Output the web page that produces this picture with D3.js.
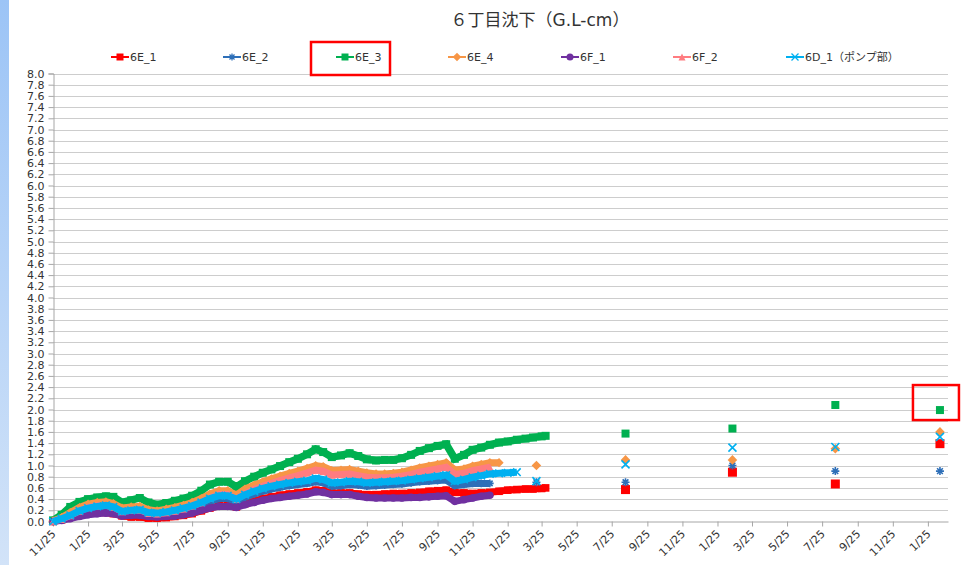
<!DOCTYPE html>
<html lang="ja">
<head>
<meta charset="UTF-8">
<title>6丁目沈下</title>
<script src="https://d3js.org/d3.v7.min.js"></script>
<style>
  body { margin: 0; background: #fff; }
  svg { display: block; }
  text { font-family: "DejaVu Sans", "Noto Sans CJK JP", sans-serif; fill: #333; }
</style>
</head>
<body>
<svg width="964" height="565"></svg>
<script>
// measurement dates of the dense part (every ~half month)
var denseDates = [
  "2012-11-25","2012-12-10","2012-12-25","2013-01-10","2013-01-25","2013-02-10","2013-02-25","2013-03-10",
  "2013-03-25","2013-04-10","2013-04-25","2013-05-10","2013-05-25","2013-06-10","2013-06-25","2013-07-10",
  "2013-07-25","2013-08-10","2013-08-25","2013-09-10","2013-09-25","2013-10-10","2013-10-25","2013-11-10",
  "2013-11-25","2013-12-10","2013-12-25","2014-01-10","2014-01-25","2014-02-10","2014-02-25","2014-03-10",
  "2014-03-25","2014-04-10","2014-04-25","2014-05-10","2014-05-25","2014-06-10","2014-06-25","2014-07-10",
  "2014-07-25","2014-08-10","2014-08-25","2014-09-10","2014-09-25","2014-10-10","2014-10-25","2014-11-10",
  "2014-11-25","2014-12-10","2014-12-25","2015-01-10","2015-01-25","2015-02-10","2015-02-25","2015-03-10",
  "2015-03-25","2015-04-01"
];
// later, isolated measurements
var sparseDates = ["2015-03-16", "2015-08-18", "2016-02-20", "2016-08-17", "2017-02-15"];

var seriesNames = ["6E_1", "6E_2", "6E_3", "6E_4", "6F_1", "6F_2", "6D_1（ポンプ部）"];

var dense_6E_1 = [0.00,0.03,0.08,0.13,0.15,0.16,0.16,0.14,0.10,0.08,0.08,0.06,0.06,0.07,0.09,0.11,
  0.14,0.19,0.24,0.28,0.28,0.26,0.32,0.37,0.41,0.44,0.47,0.49,0.51,0.53,0.56,0.55,
  0.51,0.51,0.51,0.49,0.48,0.48,0.49,0.50,0.50,0.51,0.52,0.54,0.55,0.56,0.52,0.51,
  0.50,0.51,0.52,0.54,0.56,0.57,0.58,0.58,0.59,0.60];
var dense_6E_2 = [0.00,0.04,0.09,0.16,0.20,0.23,0.25,0.22,0.14,0.16,0.17,0.12,0.11,0.13,0.16,0.20,
  0.24,0.30,0.36,0.41,0.41,0.35,0.43,0.49,0.54,0.58,0.61,0.64,0.66,0.68,0.71,0.69,
  0.63,0.64,0.66,0.65,0.63,0.64,0.65,0.66,0.67,0.69,0.71,0.72,0.73,0.74,0.64,0.66,
  0.68,0.68,0.68,null,null,null,null,null,null,null];
var dense_6E_3 = [0.02,0.12,0.26,0.35,0.40,0.43,0.45,0.44,0.34,0.38,0.42,0.34,0.30,0.33,0.37,0.41,
  0.46,0.55,0.66,0.71,0.71,0.62,0.72,0.80,0.87,0.93,0.99,1.06,1.12,1.20,1.29,1.24,
  1.15,1.18,1.22,1.17,1.11,1.09,1.10,1.10,1.13,1.19,1.26,1.31,1.35,1.38,1.12,1.19,
  1.28,1.32,1.37,1.41,1.43,1.46,1.48,1.50,1.52,1.53];
var dense_6E_4 = [0.01,0.07,0.16,0.25,0.31,0.34,0.35,0.32,0.24,0.26,0.27,0.21,0.19,0.22,0.25,0.29,
  0.34,0.41,0.49,0.55,0.55,0.47,0.58,0.65,0.71,0.76,0.81,0.86,0.90,0.95,1.00,0.98,
  0.91,0.92,0.93,0.90,0.87,0.85,0.85,0.86,0.88,0.92,0.96,0.99,1.02,1.05,0.92,0.94,
  0.99,1.02,1.05,1.05,null,null,null,null,null,null];
var dense_6F_1 = [0.00,0.02,0.05,0.09,0.12,0.14,0.15,0.14,0.10,0.11,0.11,0.09,0.08,0.09,0.10,0.12,
  0.15,0.20,0.24,0.27,0.27,0.25,0.30,0.34,0.38,0.41,0.43,0.45,0.47,0.49,0.53,0.52,
  0.48,0.48,0.48,0.45,0.43,0.42,0.42,0.42,0.42,0.43,0.43,0.44,0.45,0.46,0.36,0.39,
  0.42,0.45,0.47,null,null,null,null,null,null,null];
var dense_6F_2 = [0.01,0.04,0.11,0.19,0.25,0.28,0.29,0.26,0.18,0.20,0.21,0.15,0.14,0.16,0.19,0.23,
  0.28,0.34,0.42,0.48,0.48,0.40,0.50,0.57,0.63,0.68,0.73,0.78,0.82,0.87,0.92,0.90,
  0.83,0.84,0.85,0.82,0.79,0.78,0.78,0.79,0.81,0.84,0.88,0.91,0.94,0.97,0.84,0.86,
  0.91,0.94,0.97,null,null,null,null,null,null,null];
var dense_6D_1 = [0.00,0.05,0.11,0.19,0.24,0.27,0.29,0.26,0.18,0.20,0.21,0.16,0.15,0.17,0.20,0.24,
  0.28,0.34,0.41,0.46,0.46,0.40,0.48,0.54,0.59,0.63,0.66,0.69,0.71,0.73,0.77,0.75,
  0.69,0.70,0.72,0.71,0.69,0.70,0.71,0.72,0.73,0.75,0.77,0.79,0.81,0.83,0.72,0.75,
  0.79,0.82,0.85,0.86,0.87,0.88,null,null,null,null];

var sparse_6E_1 = [null, 0.57, 0.88, 0.67, 1.39];
var sparse_6E_2 = [0.70, 0.70, 1.00, 0.90, 0.90];
var sparse_6E_3 = [null, 1.57, 1.66, 2.08, 1.99];
var sparse_6E_4 = [1.00, 1.10, 1.10, 1.30, 1.60];
var sparse_6F_1 = [null, null, null, null, null];
var sparse_6F_2 = [null, null, null, null, null];
var sparse_6D_1 = [0.72, 1.02, 1.32, 1.33, 1.51];

var denseValues = [dense_6E_1, dense_6E_2, dense_6E_3, dense_6E_4, dense_6F_1, dense_6F_2, dense_6D_1];
var sparseValues = [sparse_6E_1, sparse_6E_2, sparse_6E_3, sparse_6E_4, sparse_6F_1, sparse_6F_2, sparse_6D_1];

var colors = ["#ff0000", "#2e6fb8", "#00b050", "#f79646", "#7030a0", "#ff7c80", "#00b0f0"];
var shapes = ["square", "asterisk", "square", "diamond", "circle", "triangle", "x"];

var svg = d3.select("svg");
var parse = d3.timeParse("%Y-%m-%d");

var x = d3.scaleTime()
  .domain([new Date(2012, 10, 25), new Date(2017, 2, 1)])
  .range([53, 948]);
var y = d3.scaleLinear().domain([0, 8]).range([521.5, 73.5]);

var yTicks = d3.range(0, 41).map(function(i) { return i * 0.2; });
var xTicks = d3.range(0, 26).map(function(i) { return new Date(2012, 10 + 2 * i, 25); });

// left blue strip
var grad = svg.append("defs").append("linearGradient")
  .attr("id", "strip").attr("x1", 0).attr("y1", 0).attr("x2", 0).attr("y2", 1);
grad.append("stop").attr("offset", "0%").attr("stop-color", "#9cc4f6");
grad.append("stop").attr("offset", "100%").attr("stop-color", "#d2e3f8");
svg.append("rect").attr("x", 0).attr("y", 0).attr("width", 9).attr("height", 565)
  .attr("fill", "url(#strip)");

// title
svg.append("text")
  .attr("x", 540).attr("y", 26)
  .attr("text-anchor", "middle")
  .attr("font-size", "17px")
  .attr("font-family", "'Noto Sans CJK JP', sans-serif")
  .text("６丁目沈下（G.L-cm）");

// gridlines
svg.append("g").selectAll("line")
  .data(yTicks.slice(1))
  .enter().append("line")
  .attr("x1", 53).attr("x2", 948)
  .attr("y1", function(d) { return Math.round(y(d)) + 0.5; })
  .attr("y2", function(d) { return Math.round(y(d)) + 0.5; })
  .attr("stroke", "#cdcdcd");

// y axis
var yAxis = svg.append("g")
  .attr("transform", "translate(53.5,0)")
  .call(d3.axisLeft(y).tickValues(yTicks).tickSize(5).tickPadding(4)
    .tickFormat(d3.format(".1f")));
yAxis.selectAll("text").attr("font-size", "11px").attr("fill", "#333");
yAxis.selectAll("line").attr("stroke", "#a6a6a6");
yAxis.select(".domain").attr("stroke", "#a6a6a6");

// x axis
var xAxis = svg.append("g")
  .attr("transform", "translate(0,521.5)")
  .call(d3.axisBottom(x).tickValues(xTicks).tickSize(5).tickSizeOuter(0)
    .tickFormat(d3.timeFormat("%-m/%-d")));
xAxis.selectAll("line").attr("stroke", "#a6a6a6");
xAxis.select(".domain").attr("stroke", "#a6a6a6");
xAxis.selectAll("text")
  .attr("font-size", "11px").attr("fill", "#333")
  .attr("text-anchor", "end")
  .attr("y", 0).attr("dy", 0)
  .attr("transform", "translate(3,13) rotate(-45)");

function markerPath(shape, s) {
  var a = s * 0.72;
  if (shape === "square") return "M" + (-s) + "," + (-s) + "H" + s + "V" + s + "H" + (-s) + "Z";
  if (shape === "diamond") return "M0," + (-s - 0.8) + "L" + (s + 0.8) + ",0L0," + (s + 0.8) + "L" + (-s - 0.8) + ",0Z";
  if (shape === "triangle") return "M0," + (-s) + "L" + s + "," + s + "L" + (-s) + "," + s + "Z";
  if (shape === "circle") return d3.symbol(d3.symbolCircle, Math.PI * s * s)();
  if (shape === "asterisk") return "M" + (-s) + ",0H" + s + "M0," + (-s) + "V" + s +
    "M" + (-a) + "," + (-a) + "L" + a + "," + a + "M" + (-a) + "," + a + "L" + a + "," + (-a);
  return "M" + (-s) + "," + (-s) + "L" + s + "," + s + "M" + (-s) + "," + s + "L" + s + "," + (-s);
}
function isStroke(shape) { return shape === "asterisk" || shape === "x"; }

function drawMarkers(g, pts, i, s) {
  g.selectAll(null)
    .data(pts)
    .enter().append("path")
    .attr("transform", function(d) { return "translate(" + x(d.date) + "," + y(d.value) + ")"; })
    .attr("d", markerPath(shapes[i], s))
    .attr("fill", isStroke(shapes[i]) ? "none" : colors[i])
    .attr("stroke", colors[i])
    .attr("stroke-width", isStroke(shapes[i]) ? 1.6 : 0);
}

var line = d3.line()
  .defined(function(d) { return d.value !== null; })
  .x(function(d) { return x(d.date); })
  .y(function(d) { return y(d.value); });

seriesNames.forEach(function(name, i) {
  var g = svg.append("g").attr("class", "series");
  var pts = denseDates.map(function(d, j) {
    return { date: parse(d), value: denseValues[i][j] };
  });
  g.append("path")
    .datum(pts)
    .attr("d", line)
    .attr("fill", "none")
    .attr("stroke", colors[i])
    .attr("stroke-width", i === 2 ? 7.5 : 7)
    .attr("stroke-linejoin", "miter");
  drawMarkers(g, pts.filter(function(d) { return d.value !== null; }), i, i === 2 ? 4 : 3.8);

  var sp = sparseDates.map(function(d, j) {
    return { date: parse(d), value: sparseValues[i][j] };
  }).filter(function(d) { return d.value !== null; });
  drawMarkers(g, sp, i, i === 0 ? 4.5 : 4);
});

// legend
var legendX = [111, 223, 336, 448, 561, 673, 786];
var legend = svg.append("g").attr("transform", "translate(0,57)");
seriesNames.forEach(function(name, i) {
  var item = legend.append("g").attr("transform", "translate(" + legendX[i] + ",0)");
  item.append("line").attr("x1", 0).attr("x2", 18).attr("y1", 0).attr("y2", 0)
    .attr("stroke", colors[i]).attr("stroke-width", 2);
  item.append("path")
    .attr("transform", "translate(9,0)")
    .attr("d", markerPath(shapes[i], 3.5))
    .attr("fill", isStroke(shapes[i]) ? "none" : colors[i])
    .attr("stroke", colors[i])
    .attr("stroke-width", isStroke(shapes[i]) ? 1.3 : 0);
  item.append("text").attr("x", 19).attr("y", 4)
    .attr("font-size", "11px")
    .text(name);
});

// red highlight boxes
svg.append("rect")
  .attr("x", legendX[2] - 25).attr("y", 42).attr("width", 79).attr("height", 33)
  .attr("fill", "none").attr("stroke", "#ff0000").attr("stroke-width", 2.5);
var lastGreen = parse(sparseDates[4]);
svg.append("rect")
  .attr("x", x(lastGreen) - 27).attr("y", y(sparse_6E_3[4]) - 25)
  .attr("width", 46).attr("height", 35)
  .attr("fill", "none").attr("stroke", "#ff0000").attr("stroke-width", 2.5);
</script>
</body>
</html>
